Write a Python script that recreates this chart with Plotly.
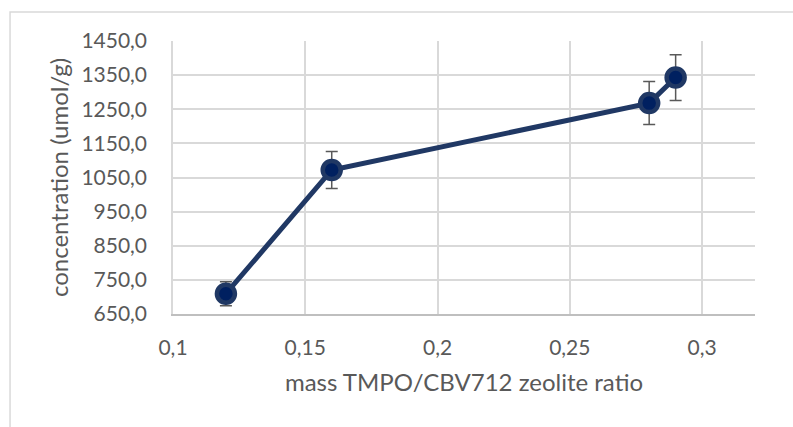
import plotly.graph_objects as go

# Measured TMPO loading vs. mass ratio
mass_ratio = [0.12, 0.16, 0.28, 0.29]
concentration = [709.5, 1072.0, 1268.0, 1343.0]
error = [35.0, 54.0, 63.0, 67.0]

navy = "#203864"
grid = "#d9d9d9"
text_gray = "#595959"
font_family = "Lato, 'Open Sans', sans-serif"

fig = go.Figure()
fig.add_trace(go.Scatter(
    x=mass_ratio,
    y=concentration,
    mode="lines+markers",
    line=dict(color=navy, width=5),
    marker=dict(size=18, color="#002060", line=dict(color=navy, width=4.5)),
    error_y=dict(type="data", array=error, visible=True,
                 color=text_gray, thickness=1.5, width=6),
    showlegend=False,
))

fig.update_layout(
    width=793, height=427,
    margin=dict(l=173, r=38, t=41, b=113),
    paper_bgcolor="white",
    plot_bgcolor="white",
    separators=",.",
    font=dict(family=font_family, color=text_gray, size=21),
    xaxis=dict(
        range=[0.1, 0.32], tick0=0.1, dtick=0.05,
        showgrid=True, gridcolor=grid, gridwidth=1.5,
        showline=True, linecolor="#bfbfbf", linewidth=1.5,
        zeroline=False, ticks="", ticklabelstandoff=14,
        tickfont=dict(size=21, color=text_gray),
        title=dict(text="mass TMPO/CBV712 zeolite ratio",
                   font=dict(size=24, color=text_gray), standoff=16),
    ),
    yaxis=dict(
        range=[650, 1450], tick0=650, dtick=100, tickformat=".1f",
        showgrid=True, gridcolor=grid, gridwidth=1.5,
        showline=True, linecolor=grid, linewidth=1.5,
        zeroline=False, ticks="", ticklabelstandoff=20,
        tickfont=dict(size=21, color=text_gray),
        title=dict(text="concentration (umol/g)",
                   font=dict(size=24, color=text_gray), standoff=6),
    ),
)

# Chart-area frame
fig.add_shape(type="path", xref="paper", yref="paper",
              path="M 1.2 1.106 L -0.280 1.106 L -0.280 -0.5",
              line=dict(color=grid, width=1.5))

fig.write_html("out.html")
